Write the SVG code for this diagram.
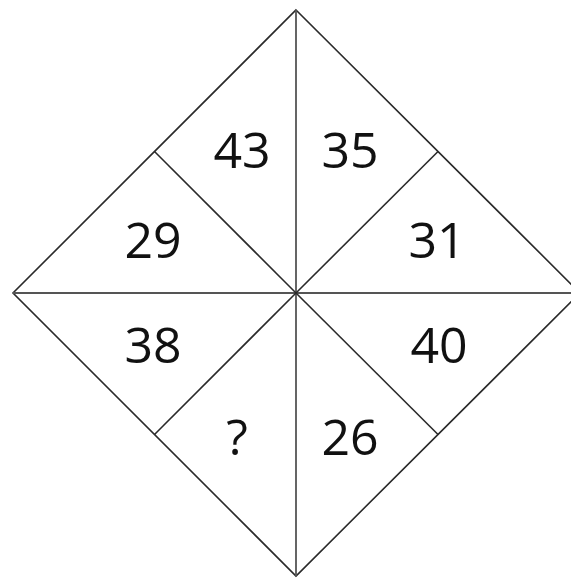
<svg xmlns="http://www.w3.org/2000/svg" width="571" height="579" viewBox="0 0 571 579">
  <style>
    .edge { stroke: #2a2a2a; stroke-width: 1.6; fill: none; }
    .axis { stroke: #555; stroke-width: 1.8; fill: none; }
    .num { font-family: "Open Sans", "Noto Sans", sans-serif; font-size: 50px; fill: #111; text-anchor: middle; }
  </style>
  <rect width="571" height="579" fill="#ffffff"/>
  <g id="connectors">
    <polygon class="edge" points="296,10 580,293 296,576 13,293"/>
    <line class="axis" x1="296" y1="10" x2="296" y2="576"/>
    <line class="axis" x1="13" y1="293" x2="580" y2="293"/>
    <line class="edge" x1="154.5" y1="151.5" x2="296" y2="293"/>
    <line class="edge" x1="438" y1="151.5" x2="296" y2="293"/>
    <line class="edge" x1="154.5" y1="434.5" x2="296" y2="293"/>
    <line class="edge" x1="438" y1="434.5" x2="296" y2="293"/>
  </g>
  <g id="n43"><text class="num" x="242" y="168">43</text></g>
  <g id="n35"><text class="num" x="350" y="168">35</text></g>
  <g id="n29"><text class="num" x="153" y="258">29</text></g>
  <g id="n31"><text class="num" x="437" y="258">31</text></g>
  <g id="n38"><text class="num" x="153" y="363">38</text></g>
  <g id="n40"><text class="num" x="439" y="363">40</text></g>
  <g id="nq"><text class="num" x="237" y="455">?</text></g>
  <g id="n26"><text class="num" x="350" y="455">26</text></g>
</svg>
